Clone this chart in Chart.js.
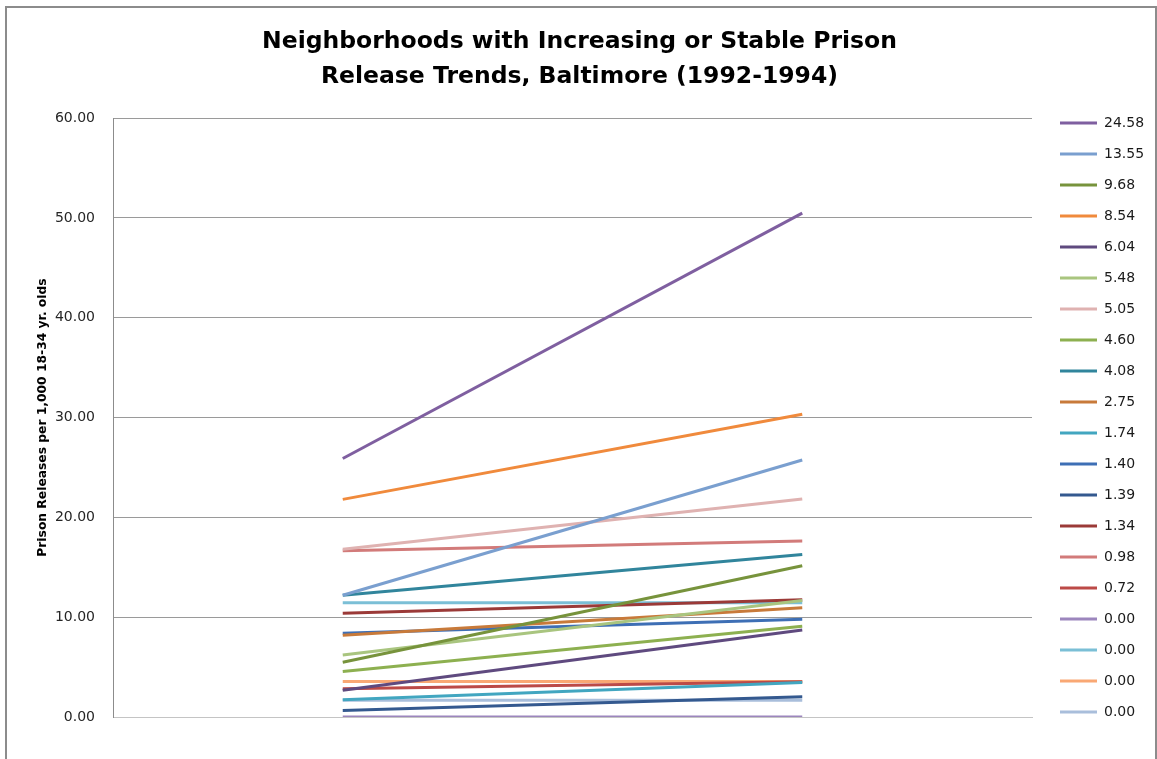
<!DOCTYPE html>
<html>
<head>
<meta charset="utf-8">
<script src="https://cdn.jsdelivr.net/npm/chart.js@4/dist/chart.umd.min.js"></script>
<style>
  html, body { margin: 0; padding: 0; background: #ffffff; }
  canvas { display: block; }
</style>
</head>
<body>
<canvas id="c" width="1157" height="759" style="width:1157px;height:759px"></canvas>
<script>
// ---- data ----
const categories = ['1992', '1994'];
const seriesLabels = ['24.58', '13.55', '9.68', '8.54', '6.04', '5.48', '5.05', '4.60', '4.08', '2.75',
                      '1.74', '1.40', '1.39', '1.34', '0.98', '0.72', '0.00', '0.00', '0.00', '0.00'];
const values1992 = [25.90, 12.20, 5.48, 21.80, 2.68, 6.20, 16.80, 4.55, 12.20, 8.20,
                    1.72, 8.40, 0.65, 10.40, 16.65, 2.82, 0.00, 11.45, 3.55, 1.68];
const values1994 = [50.48, 25.75, 15.16, 30.34, 8.72, 11.68, 21.85, 9.10, 16.28, 10.95,
                    3.46, 9.80, 2.04, 11.74, 17.63, 3.54, 0.00, 11.45, 3.55, 1.68];
const yTicks = [0, 10, 20, 30, 40, 50, 60];
const titleLines = ['Neighborhoods with Increasing or Stable Prison', 'Release Trends, Baltimore (1992-1994)'];
const yTitle = 'Prison Releases per 1,000 18-34 yr. olds';

// ---- styles ----
const colors = ['#7f5fa0', '#7a9fcf', '#77933c', '#f08a3c', '#5f4a7f', '#a9c57f', '#dfb2b1', '#8db050', '#31859c', '#c87a3a',
                '#42a6c0', '#3e6fb5', '#34598f', '#9b3a38', '#d27b7a', '#bc4a47', '#9c86bd', '#7bbfd6', '#f9a874', '#a9bedb'];

const datasets = seriesLabels.map((lab, i) => ({
  label: lab,
  data: [values1992[i], values1994[i]],
  borderColor: colors[i],
  backgroundColor: colors[i],
  borderWidth: 3,
  pointRadius: 0,
  pointHoverRadius: 0,
  pointStyle: 'line',
  tension: 0,
  fill: false
}));

const frame = {
  id: 'frame',
  beforeDraw(chart) {
    const ctx = chart.ctx;
    ctx.save();
    ctx.fillStyle = '#ffffff';
    ctx.fillRect(0, 0, chart.width, chart.height);
    ctx.restore();
  },
  afterDraw(chart) {
    const ctx = chart.ctx;
    ctx.save();
    ctx.strokeStyle = '#8c8c8c';
    ctx.lineWidth = 2;
    ctx.strokeRect(6, 7, 1150, 800);
    ctx.restore();
  }
};

new Chart(document.getElementById('c'), {
  type: 'line',
  data: { labels: categories, datasets },
  plugins: [frame],
  options: {
    responsive: false,
    devicePixelRatio: 1,
    animation: false,
    events: [],
    layout: { padding: { left: 8, top: 0, right: 6, bottom: 23 } },
    plugins: {
      tooltip: { enabled: false },
      title: {
        display: true,
        text: titleLines,
        color: '#000000',
        font: { family: 'DejaVu Sans', size: 23.5, weight: 'bold', lineHeight: 1.47 },
        padding: { top: 25, bottom: 24 }
      },
      legend: {
        display: true,
        position: 'right',
        align: 'end',
        maxWidth: 108,
        labels: {
          usePointStyle: true,
          pointStyleWidth: 37,
          boxHeight: 3,
          padding: 17,
          color: '#1a1a1a',
          font: { family: 'DejaVu Sans', size: 14 }
        }
      }
    },
    scales: {
      x: {
        type: 'category',
        offset: true,
        grid: { display: false, drawTicks: false },
        border: { display: true, color: '#c4c4c4', width: 1 },
        ticks: { color: '#262626', padding: 17, font: { family: 'DejaVu Sans', size: 14 } },
        afterFit(s) { s.height = 19; }
      },
      y: {
        type: 'linear',
        position: 'left',
        min: 0,
        max: 60,
        afterBuildTicks(s) { s.ticks = yTicks.map(v => ({ value: v })); },
        grid: { display: true, color: '#9a9a9a', lineWidth: 1, drawTicks: false },
        border: { display: true, color: '#8c8c8c', width: 1 },
        ticks: {
          color: '#262626',
          padding: 18,
          font: { family: 'DejaVu Sans', size: 14 },
          callback: (v) => Number(v).toFixed(2)
        },
        title: {
          display: true,
          text: yTitle,
          color: '#000000',
          font: { family: 'DejaVu Sans', size: 12.3, weight: 'bold' },
          padding: { top: 27, bottom: 0 }
        },
        afterFit(s) { s.width = 105; }
      },
      gap: {
        type: 'linear',
        position: 'right',
        display: true,
        grid: { display: false, drawTicks: false },
        border: { display: false },
        ticks: { display: false },
        afterFit(s) { s.width = 11; }
      }
    }
  }
});
</script>
</body>
</html>
